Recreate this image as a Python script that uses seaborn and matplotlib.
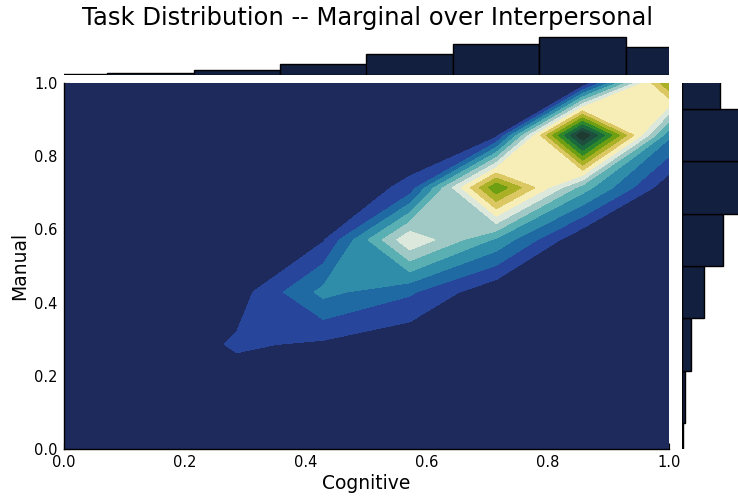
import numpy as np
import matplotlib
matplotlib.use("Agg")
import matplotlib.pyplot as plt
import seaborn as sns

# ---- data -------------------------------------------------------------
# grid of bin centres (Cognitive on x, Manual on y)
grid = [0/7, 1/7, 2/7, 3/7, 4/7, 5/7, 6/7, 7/7]

# density over the grid; rows = Manual (bottom -> top), cols = Cognitive
dens_m0 = [0.00, 0.00, 0.00, 0.00, 0.00, 0.00, 0.00, 0.00]
dens_m1 = [0.00, 0.00, 0.10, 0.00, 0.00, 0.00, 0.00, 0.00]
dens_m2 = [0.00, 0.00, 1.17, 0.80, 0.12, 0.00, 0.00, 0.00]
dens_m3 = [0.00, 0.00, 0.48, 3.30, 2.16, 0.12, 0.00, 0.00]
dens_m4 = [0.00, 0.00, 0.00, 0.90, 6.90, 3.80, 0.00, 0.00]
dens_m5 = [0.00, 0.00, 0.00, 0.00, 1.28, 10.86, 4.50, 0.23]
dens_m6 = [0.00, 0.00, 0.00, 0.00, 0.00, 0.60, 15.00, 3.20]
dens_m7 = [0.00, 0.00, 0.00, 0.00, 0.00, 0.00, 0.00, 10.00]

# marginal histograms
top_counts = [0.66, 1.17, 2.34, 5.85, 10.9, 16.0, 19.5, 14.4]
right_counts = [0.26, 0.70, 2.43, 5.90, 10.7, 16.9, 18.8, 10.0]

title = "Task Distribution -- Marginal over Interpersonal"
xlabel = "Cognitive"
ylabel = "Manual"
tick_vals = [0.0, 0.2, 0.4, 0.6, 0.8, 1.0]
tick_labels = ["0.0", "0.2", "0.4", "0.6", "0.8", "1.0"]

# ---- style ------------------------------------------------------------
sns.set_theme(style="white")
plt.rcParams["font.family"] = ["DejaVu Sans"]
plt.rcParams["text.color"] = "black"
plt.rcParams["axes.labelcolor"] = "black"
plt.rcParams["xtick.color"] = "black"
plt.rcParams["ytick.color"] = "black"

band_colors = ["#1d2a5b", "#26459b", "#1f6aa2", "#2f8da9", "#5aafb2",
               "#a0c9c5", "#dce8dc", "#f6eeb6", "#dcc863", "#abb127",
               "#6e9e12", "#2e872a", "#1a6a3e", "#1e4f3e", "#1f3a30"]
bar_color = "#121f3f"

W, H = 738, 500
fig = plt.figure(figsize=(W / 100, H / 100), dpi=100)

def ax_px(x0, y0, x1, y1):
    return fig.add_axes([x0 / W, 1 - y1 / H, (x1 - x0) / W, (y1 - y0) / H])

ax = ax_px(64, 83, 669, 449)
ax_top = ax_px(64, 33, 669, 75)
ax_right = ax_px(682, 83, 742, 449)

Z = np.array([dens_m0, dens_m1, dens_m2, dens_m3, dens_m4, dens_m5, dens_m6, dens_m7])
X, Y = np.meshgrid(grid, grid)
levels = np.linspace(0, 15, 16)
ax.contourf(X, Y, Z, levels=levels, colors=band_colors)

ax.set_xlim(0, 1)
ax.set_ylim(0, 1)
ax.set_xticks(tick_vals)
ax.set_xticklabels(tick_labels)
ax.set_yticks(tick_vals)
ax.set_yticklabels(tick_labels)
ax.tick_params(direction="in", length=4, width=0.8, color="black",
               labelsize=10.5, bottom=True, left=True)
ax.tick_params(axis="x", pad=4)
ax.tick_params(axis="y", pad=4.5)
for s in ["top", "right"]:
    ax.spines[s].set_visible(False)
for s in ["left", "bottom"]:
    ax.spines[s].set_color("black")
    ax.spines[s].set_linewidth(1.0)
ax.set_xlabel(xlabel, fontsize=13.5, labelpad=3)
ax.set_ylabel(ylabel, fontsize=13.5, labelpad=4)

half = 1 / 14
edges = [g - half for g in grid] + [grid[-1] + half]

sns.histplot(x=grid, weights=top_counts, bins=edges, ax=ax_top,
             color=bar_color, edgecolor="black", linewidth=1.0, alpha=1.0)
ax_top.set_xlim(0, 1)
ax_top.set_ylim(0, 19.5 * 42 / 38)
ax_top.set_axis_off()

sns.histplot(y=grid, weights=right_counts, bins=edges, ax=ax_right,
             color=bar_color, edgecolor="black", linewidth=1.0, alpha=1.0)
ax_right.set_ylim(0, 1)
ax_right.set_xlim(0, 10 * 60 / 38)
ax_right.set_axis_off()

fig.text(367 / W, 1 - 18 / H, title, ha="center", va="center", fontsize=17.5)

fig.savefig("out.png", dpi=100)
